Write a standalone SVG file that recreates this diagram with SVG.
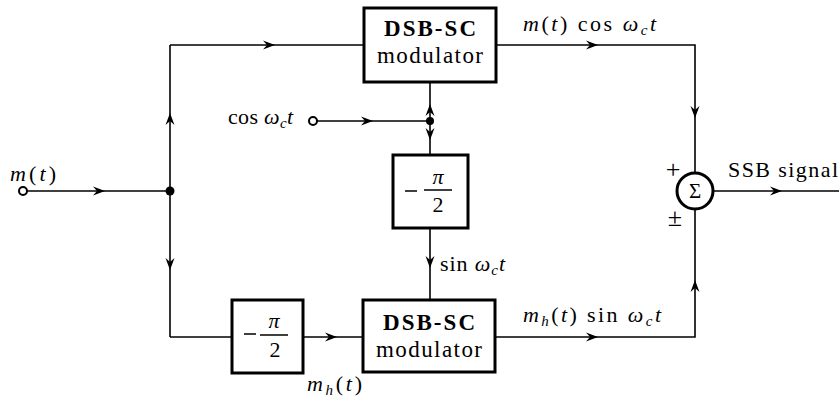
<svg xmlns="http://www.w3.org/2000/svg" xmlns:xlink="http://www.w3.org/1999/xlink" width="839" height="401" viewBox="0 0 839 401">
<style>
.box{fill:#fff;stroke:#000;stroke-width:3}
.ln{fill:none;stroke:#000;stroke-width:1.6}
text{font-family:'Liberation Serif','Times New Roman',serif;fill:#000}
.bx{font-size:23px;text-anchor:middle}
.lb{font-size:22px}
.i{font-style:italic}
.sub{font-size:15px;font-style:italic}
.frac{font-size:22px;text-anchor:middle}
</style>
<defs>
<path id="ah" d="M0,0 L-12,-4.5 L-8,0 L-12,4.5 Z" fill="#000"/>
</defs>
<g id="connectors">
<circle cx="23" cy="191" r="4" fill="#fff" stroke="#000" stroke-width="2"/>
<path class="ln" d="M27,191 H170"/>
<path class="ln" d="M170,45 V337"/>
<path class="ln" d="M170,45 H364"/>
<path class="ln" d="M170,337 H232"/>
<path class="ln" d="M303,337 H363"/>
<circle cx="313" cy="121" r="4" fill="#fff" stroke="#000" stroke-width="2"/>
<path class="ln" d="M317,121 H430"/>
<path class="ln" d="M430,82 V155"/>
<path class="ln" d="M430,228 V300"/>
<path class="ln" d="M496,45 H695 V173"/>
<path class="ln" d="M495,337 H695 V209"/>
<path class="ln" d="M713,191 H839"/>
<circle cx="170" cy="191" r="4.5" fill="#000"/>
<circle cx="430" cy="121" r="4" fill="#000"/>
<use xlink:href="#ah" transform="translate(105,191)"/>
<use xlink:href="#ah" transform="translate(170,113) rotate(-90)"/>
<use xlink:href="#ah" transform="translate(170,270) rotate(90)"/>
<use xlink:href="#ah" transform="translate(275,45)"/>
<use xlink:href="#ah" transform="translate(337,337)"/>
<use xlink:href="#ah" transform="translate(373,121)"/>
<use xlink:href="#ah" transform="translate(430,104) rotate(-90)"/>
<use xlink:href="#ah" transform="translate(430,140) rotate(90)"/>
<use xlink:href="#ah" transform="translate(430,268) rotate(90)"/>
<use xlink:href="#ah" transform="translate(598,45)"/>
<use xlink:href="#ah" transform="translate(695,118) rotate(90)"/>
<use xlink:href="#ah" transform="translate(598,337)"/>
<use xlink:href="#ah" transform="translate(695,280) rotate(-90)"/>
<use xlink:href="#ah" transform="translate(782,191)"/>
</g>
<g id="mod1">
<rect class="box" x="364" y="8" width="132" height="74"/>
<text class="bx" x="430" y="36" font-weight="bold" textLength="92">DSB-SC</text>
<text class="bx" x="430" y="63" textLength="106">modulator</text>
</g>
<g id="mod2">
<rect class="box" x="363" y="300" width="132" height="72"/>
<text class="bx" x="429" y="330" font-weight="bold" textLength="92">DSB-SC</text>
<text class="bx" x="429" y="357" textLength="106">modulator</text>
</g>
<g id="shift1">
<rect class="box" x="393" y="155" width="75" height="73"/>
<path d="M405,191 H417 M424,190 H452" stroke="#000" stroke-width="1.6"/>
<text class="frac i" x="438" y="184">π</text>
<text class="frac" x="438" y="212">2</text>
</g>
<g id="shift2">
<rect class="box" x="232" y="300" width="71" height="73"/>
<path d="M244,334 H256 M260,335 H288" stroke="#000" stroke-width="1.6"/>
<text class="frac i" x="274" y="328">π</text>
<text class="frac" x="275" y="357">2</text>
</g>
<g id="sum">
<circle cx="695" cy="191" r="18" fill="#fff" stroke="#000" stroke-width="3"/>
<text x="695" y="198" font-size="21" text-anchor="middle">Σ</text>
<text x="673" y="178" font-size="26" text-anchor="middle">+</text>
<text x="675" y="226" font-size="26" text-anchor="middle">±</text>
</g>
<g id="labels">
<text class="lb" x="10" y="181" textLength="46"><tspan class="i">m</tspan>(<tspan class="i">t</tspan>)</text>
<text class="lb" x="228" y="124" textLength="65">cos <tspan class="i">ω</tspan><tspan class="sub" dy="4">c</tspan><tspan class="i" dy="-4">t</tspan></text>
<text class="lb" x="523" y="31" textLength="133"><tspan class="i">m</tspan>(<tspan class="i">t</tspan>) cos <tspan class="i">ω</tspan><tspan class="sub" dy="4">c</tspan><tspan class="i" dy="-4">t</tspan></text>
<text class="lb" x="440" y="271" textLength="65">sin <tspan class="i">ω</tspan><tspan class="sub" dy="4">c</tspan><tspan class="i" dy="-4">t</tspan></text>
<text class="lb" x="523" y="322" textLength="138"><tspan class="i">m</tspan><tspan class="sub" dy="4">h</tspan><tspan dy="-4">(</tspan><tspan class="i">t</tspan>) sin <tspan class="i">ω</tspan><tspan class="sub" dy="4">c</tspan><tspan class="i" dy="-4">t</tspan></text>
<text class="lb" x="307" y="391" textLength="55"><tspan class="i">m</tspan><tspan class="sub" dy="4">h</tspan><tspan dy="-4">(</tspan><tspan class="i">t</tspan>)</text>
<text class="lb" x="728" y="177" textLength="110">SSB signal</text>
</g>
</svg>
